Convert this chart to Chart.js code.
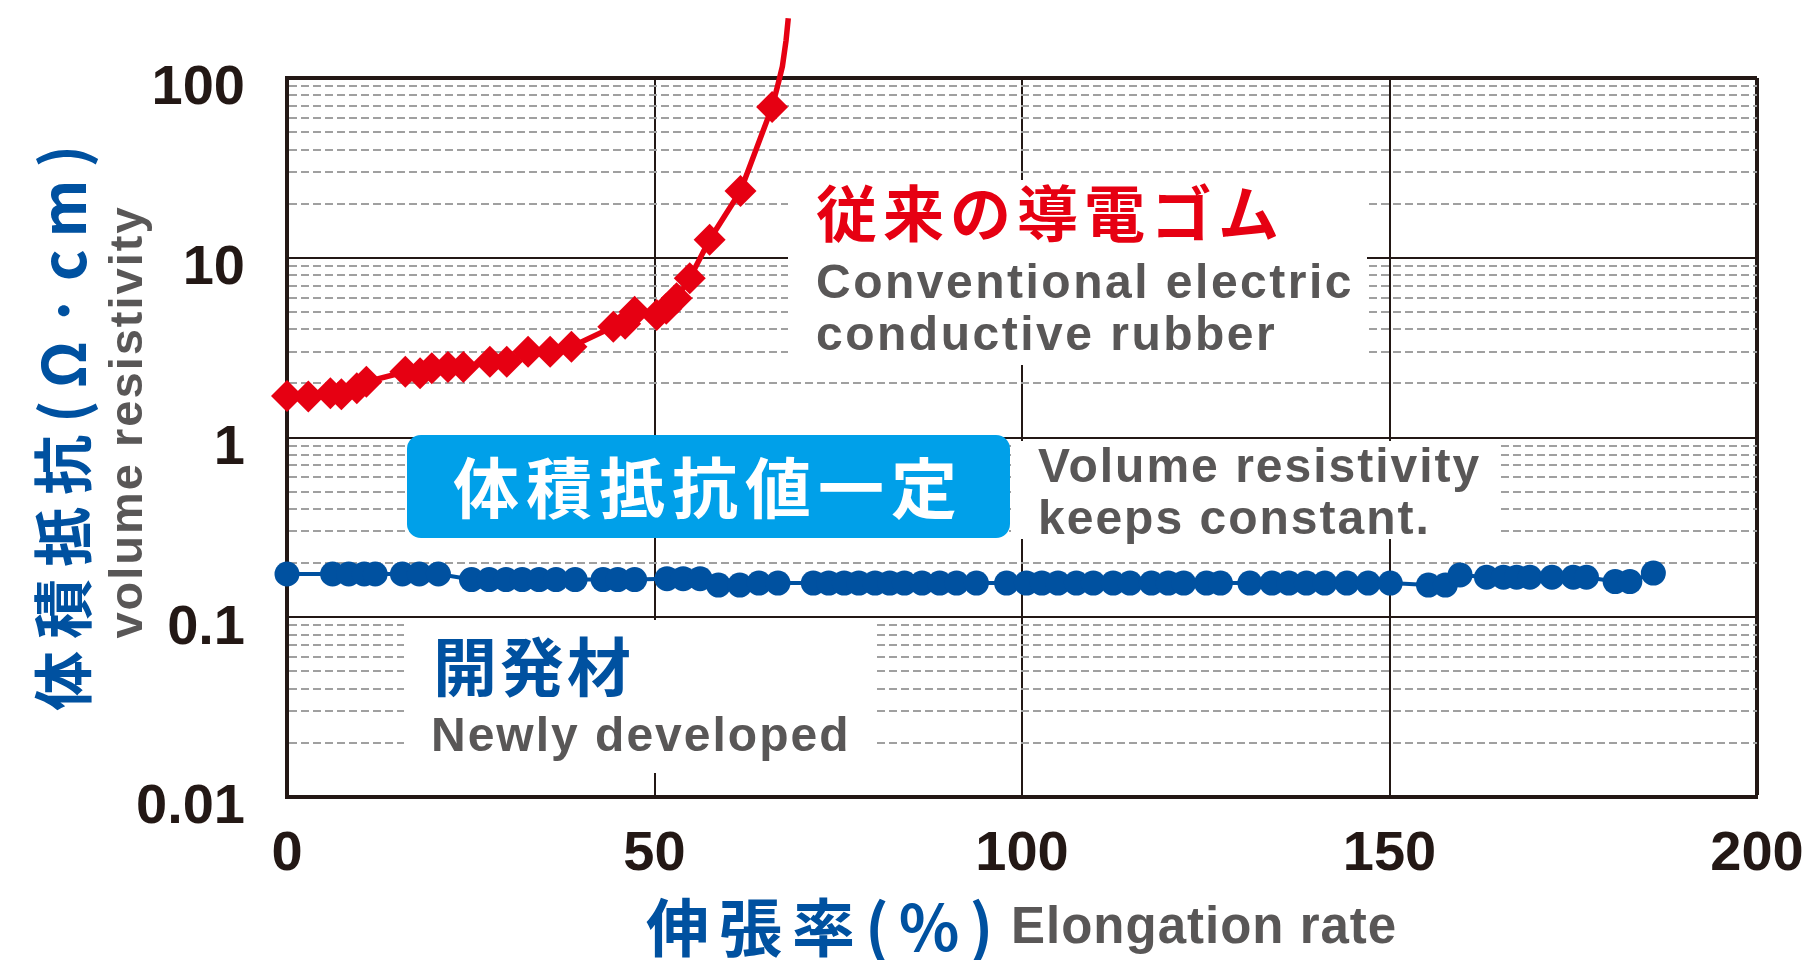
<!DOCTYPE html>
<html>
<head>
<meta charset="utf-8">
<script src="https://cdn.jsdelivr.net/npm/chart.js@4.4.1/dist/chart.umd.min.js"></script>
<style>
  html, body { margin: 0; padding: 0; background: #fff; }
  #wrap { position: relative; width: 1808px; height: 960px; overflow: hidden; }
  #chart { position: absolute; left: 0; top: 0; }
  .mask { position: absolute; background: #fff; }
  .note { position: absolute; white-space: nowrap; line-height: 1; font-weight: 700; }
  .jp { font-family: "Noto Sans CJK JP", sans-serif; }
  .en { font-family: "Liberation Sans", Arial, sans-serif; color: #595757; }
  .rot { transform: translate(-50%, -50%) rotate(-90deg); }
</style>
</head>
<body>
<div id="wrap">
  <canvas id="chart" width="1808" height="960"></canvas>

  <!-- white patches that cut the grid behind the notes -->
  <div class="mask" style="left:788px; top:180px; width:579px; height:185px;"></div>
  <div class="mask" style="left:1011px; top:441px; width:488px; height:98px;"></div>
  <div class="mask" style="left:404px; top:620px; width:469px; height:153px;"></div>

  <div class="note jp" style="left:816px; top:180px; font-size:61px; letter-spacing:6px; color:#e60012;">従来の導電ゴム</div>
  <div class="note en" style="left:816px; top:258px; font-size:48px; letter-spacing:2.5px;">Conventional electric</div>
  <div class="note en" style="left:816px; top:310px; font-size:48px; letter-spacing:2.5px;">conductive rubber</div>

  <div style="position:absolute; left:407px; top:435px; width:603px; height:103px; border-radius:14px; background:#00a0e9;"></div>
  <div class="note jp" style="left:453px; top:451px; font-size:66px; letter-spacing:7px; color:#fff;">体積抵抗値一定</div>

  <div class="note en" style="left:1038px; top:442px; font-size:48px; letter-spacing:2px;">Volume resistivity</div>
  <div class="note en" style="left:1038px; top:494px; font-size:48px; letter-spacing:2px;">keeps constant.</div>

  <div class="note jp" style="left:433px; top:631px; font-size:64px; letter-spacing:3px; color:#0051a0;">開発材</div>
  <div class="note en" style="left:431px; top:711px; font-size:48px; letter-spacing:2px;">Newly developed</div>

  <!-- axis titles -->
  <div class="note jp rot" style="left:60px; top:422px; font-size:60px; letter-spacing:12px; color:#0051a0;">体積抵抗(Ω·cm)</div>
  <div class="note en rot" style="left:125px; top:422px; font-size:47px; letter-spacing:2px;">volume resistivity</div>
  <div class="note jp" style="left:646px; top:892px; font-size:63px; letter-spacing:10px; color:#0051a0;">伸張率(%)</div>
  <div class="note en" style="left:1011px; top:900px; font-size:51px; letter-spacing:1px;">Elongation rate</div>
</div>

<script>
const INK = '#231815';
const GRID_GRAY = '#a0a0a0';
const RED = '#e60012';
const BLUE = '#0051a0';

const xTickValues = [0, 50, 100, 150, 200];
const yDecades = [0.01, 0.1, 1, 10, 100];
const yTickLabels = ['0.01', '0.1', '1', '10', '100'];
const yMinorSteps = [2, 3, 4, 5, 6, 7, 8, 9];

// 従来の導電ゴム (diamonds)
const conventionalX = [0, 2.9, 5.9, 7.4, 9.5, 10.8, 16.1, 18.1, 19.7, 21.9, 24.0, 27.6, 29.9,
  32.8, 35.8, 38.7, 44.4, 46.0, 47.3, 50.3, 51.6, 53.0, 54.8, 57.5, 61.7, 66.0];
const conventionalY = [1.70, 1.69, 1.76, 1.74, 1.88, 2.04, 2.32, 2.28, 2.43, 2.47, 2.47, 2.64, 2.64,
  3.0, 3.0, 3.2, 4.13, 4.3, 5.0, 4.8, 5.2, 5.95, 7.7, 12.6, 23.5, 69];
// the line keeps rising past the top of the frame, no markers there
const conventionalTailX = [66.8, 67.4, 67.9, 68.2];
const conventionalTailY = [92, 116, 162, 215];

// 開発材 (dots)
const developedX = [0, 6.2, 8.4, 10.5, 12.0, 15.7, 18.0, 20.6, 25.1, 27.5, 29.8, 32.0, 34.3, 36.6,
  39.2, 43.0, 45.0, 47.3, 51.7, 53.9, 56.2, 58.7, 61.6, 64.2, 66.8, 71.6, 73.7, 75.8, 77.8, 80.0,
  82.0, 84.0, 86.4, 88.8, 91.1, 93.8, 97.9, 100.6, 102.7, 104.9, 107.4, 109.7, 112.4, 114.7, 117.6,
  119.9, 122.0, 125.1, 127.0, 131.0, 134.0, 136.3, 138.7, 141.2, 144.2, 147.1, 150.1, 155.3, 157.6,
  159.6, 163.2, 165.5, 167.3, 169.1, 172.1, 175.0, 176.8, 180.7, 182.7, 185.9];
const developedY = [0.174, 0.174, 0.174, 0.174, 0.174, 0.174, 0.174, 0.174, 0.162, 0.162, 0.162,
  0.162, 0.162, 0.162, 0.162, 0.162, 0.162, 0.162, 0.164, 0.164, 0.164, 0.151, 0.151, 0.155, 0.155,
  0.155, 0.155, 0.155, 0.155, 0.155, 0.155, 0.155, 0.155, 0.155, 0.155, 0.155, 0.155, 0.155, 0.155,
  0.155, 0.155, 0.155, 0.155, 0.155, 0.155, 0.155, 0.155, 0.155, 0.155, 0.155, 0.155, 0.155, 0.155,
  0.155, 0.155, 0.155, 0.155, 0.151, 0.151, 0.172, 0.167, 0.167, 0.167, 0.167, 0.167, 0.167, 0.167,
  0.158, 0.158, 0.176];

const toPoints = (xs, ys) => xs.map((x, i) => ({ x, y: ys[i] }));

const yGridValues = yDecades.flatMap((d, i) =>
  i < yDecades.length - 1 ? [d, ...yMinorSteps.map(m => m * d)] : [d]);

const decadeIndex = v => yDecades.findIndex(d => Math.abs(v / d - 1) < 1e-6);
const isDecade = v => decadeIndex(v) >= 0;

const tickFont = { family: '"Liberation Sans", Arial, sans-serif', weight: 'bold', size: 56 };

const redPoints = toPoints(conventionalX, conventionalY)
  .concat(toPoints(conventionalTailX, conventionalTailY));
const redRadius = redPoints.map((_, i) => (i < conventionalX.length ? 16 : 0));

new Chart(document.getElementById('chart'), {
  type: 'line',
  data: {
    datasets: [
      {
        label: '従来の導電ゴム',
        data: redPoints,
        borderColor: RED,
        backgroundColor: RED,
        borderWidth: 5.5,
        tension: 0,
        pointStyle: 'rectRot',
        pointRadius: redRadius,
        pointBackgroundColor: RED,
        pointBorderWidth: 0,
        clip: false,
      },
      {
        label: '開発材',
        data: toPoints(developedX, developedY),
        borderColor: BLUE,
        backgroundColor: BLUE,
        borderWidth: 4,
        tension: 0,
        pointStyle: 'circle',
        pointRadius: 12.5,
        pointBackgroundColor: BLUE,
        pointBorderWidth: 0,
        clip: false,
      },
    ],
  },
  options: {
    responsive: false,
    devicePixelRatio: 1,
    animation: false,
    events: [],
    layout: { padding: { left: 0, top: 78, right: 51, bottom: 0 } },
    plugins: { legend: { display: false }, tooltip: { enabled: false } },
    scales: {
      x: {
        type: 'linear',
        min: 0,
        max: 200,
        afterBuildTicks: s => { s.ticks = xTickValues.map(v => ({ value: v })); },
        afterFit: s => { s.height = 163; s.paddingLeft = 0; s.paddingRight = 0; },
        ticks: { color: INK, font: tickFont, padding: 24, maxRotation: 0, autoSkip: false },
        grid: {
          drawTicks: false,
          color: INK,
          lineWidth: c => (c.tick && c.tick.value === 200 ? 4 : 2),
        },
        border: { display: true, width: 4, color: INK },
      },
      y: {
        type: 'logarithmic',
        min: 0.01,
        max: 100,
        afterBuildTicks: s => { s.ticks = yGridValues.map(v => ({ value: v })); },
        afterFit: s => { s.width = 287; s.paddingTop = 0; s.paddingBottom = 0; },
        ticks: {
          color: INK,
          font: tickFont,
          padding: 42,
          labelOffset: 11,
          autoSkip: false,
          callback: v => { const i = decadeIndex(v); return i >= 0 ? yTickLabels[i] : ''; },
        },
        grid: {
          drawTicks: false,
          color: c => (c.tick && isDecade(c.tick.value) ? INK : GRID_GRAY),
          lineWidth: c => (c.tick && c.tick.value >= 100 ? 4 : 2),
        },
        border: {
          display: true,
          width: 4,
          color: INK,
          dash: c => (c.tick && !isDecade(c.tick.value) ? [8, 4] : []),
        },
      },
    },
  },
});
</script>
</body>
</html>
